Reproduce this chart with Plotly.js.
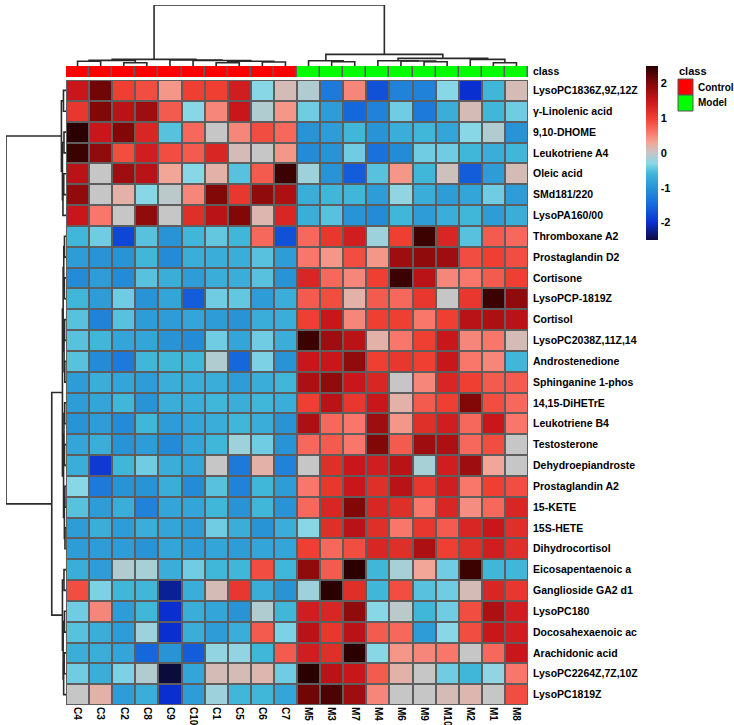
<!DOCTYPE html>
<html>
<head>
<meta charset="utf-8">
<script src="https://cdn.plot.ly/plotly-3.0.1.min.js"></script>
<style>html,body{margin:0;padding:0;background:#fff;}#chart{width:734px;height:725px;}</style>
</head>
<body>
<div id="chart"></div>
<script>
// ---------- DATA ----------
const samples = ['C4','C3','C2','C8','C9','C10','C1','C5','C6','C7','M5','M3','M7','M4','M6','M9','M10','M2','M1','M8'];
const sampleClass = [0,0,0,0,0,0,0,0,0,0,1,1,1,1,1,1,1,1,1,1];
const classNames = ['Control','Model'];
const metabolites = [
  'LysoPC1836Z,9Z,12Z','γ-Linolenic acid','9,10-DHOME','Leukotriene A4','Oleic acid','SMd181/220','LysoPA160/00',
  'Thromboxane A2','Prostaglandin D2','Cortisone','LysoPCP-1819Z','Cortisol','LysoPC2038Z,11Z,14','Androstenedione',
  'Sphinganine 1-phos','14,15-DiHETrE','Leukotriene B4','Testosterone','Dehydroepiandroste','Prostaglandin A2',
  '15-KETE','15S-HETE','Dihydrocortisol','Eicosapentaenoic a','Ganglioside GA2 d1','LysoPC180','Docosahexaenoic ac',
  'Arachidonic acid','LysoPC2264Z,7Z,10Z','LysoPC1819Z'
];
// standardized intensities, one row per metabolite, columns in sample order
const zValues = [
  [1.5, 2.1, 1.0, 0.9, 0.4, 1.0, 1.0, 1.4, -0.3, 0.1, -0.1, -1.3, 0.5, -1.7, -1.2, -1.2, -0.3, -2.0, -0.6, 0.1],
  [1.1, 2.0, 1.6, 1.8, 0.8, -0.3, 0.5, 1.5, -0.1, 0.4, -0.4, -0.9, -1.5, -1.2, -0.4, -1.3, -0.7, 0.1, -0.6, -0.4],
  [2.5, 1.5, 2.0, 1.3, -0.5, 0.7, 0.0, 0.5, 0.9, 0.7, -1.0, -0.9, -0.6, -1.0, -0.7, -0.6, -0.8, -0.3, -0.1, -1.0],
  [2.4, 1.9, 0.9, 1.4, 0.9, 0.8, 1.3, 0.1, 0.0, 0.4, -1.1, -1.0, -0.4, -1.4, -1.1, -0.4, -0.4, -0.6, -0.7, -0.6],
  [1.6, 0.0, 1.8, 1.6, 0.3, -0.3, 0.2, -0.5, 0.8, 2.4, -0.2, -1.0, -1.6, -0.5, 0.4, -0.6, 0.05, -1.6, -0.9, 0.1],
  [1.9, 0.0, 0.2, -0.3, -0.05, 0.5, 2.0, 1.1, 1.9, 1.7, -0.7, -0.6, -0.6, -0.9, -0.25, -0.7, -0.9, -0.8, -0.4, -0.9],
  [1.5, 0.6, 0.0, 1.9, 0.0, 1.2, 1.6, 2.0, 0.15, 1.3, -0.7, -0.5, -1.0, -1.1, -0.6, -0.9, -0.7, -0.6, -0.9, -0.7],
  [-0.6, -0.4, -1.8, -0.5, -1.0, -0.6, -0.45, -0.6, 0.7, -1.7, 0.7, 1.1, 1.4, -0.2, 1.0, 2.4, 1.3, -0.5, 0.8, 0.7],
  [-0.9, -1.0, -1.0, -0.6, -1.1, -0.7, -0.7, -0.7, -0.5, -0.9, 0.6, 0.4, 0.9, 0.4, 1.8, 1.9, 1.8, 0.9, 1.0, 0.9],
  [-1.1, -0.9, -1.1, -0.5, -0.7, -0.9, -0.7, -0.7, -0.5, -1.0, 1.3, 0.7, 0.5, 1.0, 2.4, 1.6, 0.5, 0.6, 0.8, 1.0],
  [-0.6, -0.9, -0.4, -1.0, -0.8, -1.6, -0.4, -0.45, -0.9, -0.7, 0.8, 0.9, 0.2, 0.8, 0.7, 1.1, 0.0, 1.1, 2.4, 1.9],
  [-0.5, -1.2, -0.5, -0.9, -0.9, -0.8, -0.9, -1.0, -0.7, -0.7, 1.0, 1.5, 0.5, 1.0, 1.0, 0.6, 1.0, 1.6, 1.7, 1.6],
  [-0.5, -0.6, -0.8, -0.8, -1.0, -1.1, -0.4, -0.8, -0.4, -0.7, 2.4, 1.8, 1.6, 0.2, 0.6, 1.0, 1.5, 0.5, 0.6, 0.1],
  [-0.5, -1.1, -1.3, -0.6, -0.6, -0.6, -0.1, -1.5, -0.35, -1.0, 1.5, 1.5, 1.9, 1.0, 1.1, 1.0, 1.5, 0.6, 0.5, -0.6],
  [-0.9, -0.7, -0.8, -0.9, -0.7, -0.7, -0.7, -0.9, -0.7, -0.6, 1.7, 1.9, 1.5, 1.3, 0.0, 0.5, 1.3, 1.0, 0.8, 0.8],
  [-0.9, -0.8, -0.6, -1.0, -0.7, -0.7, -0.6, -0.7, -0.6, -0.7, 1.0, 1.6, 1.1, 1.5, 0.2, 0.8, 1.0, 2.0, 0.9, 0.7],
  [-1.0, -0.9, -1.1, -0.6, -0.9, -0.8, -0.7, -0.6, -0.7, -1.0, 1.7, 0.7, 0.6, 1.8, 0.4, 1.2, 1.4, 0.7, 1.5, 0.6],
  [-0.8, -0.7, -1.0, -0.9, -1.1, -0.8, -0.6, -0.2, -0.4, -1.0, 0.7, 0.8, 0.6, 2.0, 0.8, 1.8, 1.7, 0.7, 0.9, 0.0],
  [-0.7, -1.9, -0.6, -0.4, -0.7, -0.8, 0.0, -1.3, 0.2, -1.2, 0.0, 1.2, 1.5, 1.4, 1.6, -0.15, 1.4, 1.8, 0.3, 0.0],
  [-0.3, -1.3, -1.0, -1.0, -0.7, -1.1, -0.5, -1.2, -0.6, -0.9, 0.6, 1.1, 1.5, 1.2, 1.6, 1.1, 1.4, 0.6, 1.0, 0.9],
  [-0.5, -0.9, -0.7, -1.2, -0.8, -0.8, -0.6, -1.0, -0.6, -1.0, 0.7, 1.3, 2.0, 1.3, 1.2, 0.6, 1.3, 0.45, 0.7, 1.3],
  [-0.9, -0.7, -0.9, -0.7, -0.8, -0.9, -0.4, -0.7, -1.0, -0.7, -0.3, 1.2, 1.6, 1.2, 0.6, 1.1, 0.8, 1.3, 1.5, 1.2],
  [-0.9, -0.9, -0.9, -1.0, -0.8, -0.9, -0.8, -0.9, -0.8, -0.8, 1.0, 0.7, 0.9, 1.3, 1.2, 1.7, 1.0, 1.2, 1.4, 1.2],
  [-0.7, -0.9, -0.1, -0.15, -0.7, -0.4, -0.6, -0.6, 0.9, -0.6, 1.9, 0.8, 2.5, -0.6, -0.15, 0.3, -0.4, 2.4, -0.6, -0.6],
  [0.9, -0.35, -0.6, -0.6, -2.2, -0.7, 0.1, 1.1, -0.7, -1.0, -0.2, 2.6, 1.2, -0.6, 0.9, -0.5, -0.4, 0.1, 1.3, 1.1],
  [-0.4, 0.5, -0.9, -0.6, -2.0, -0.7, -0.8, -1.0, -0.1, -0.6, 1.4, 1.3, 1.9, -0.3, -0.05, -0.6, -0.4, 0.9, 1.7, 1.4],
  [-0.5, -0.7, -0.9, -0.2, -2.0, -0.7, -0.9, -0.7, 0.8, -0.35, 1.6, 1.1, 1.6, 0.8, 0.7, -0.9, -0.3, 0.9, 1.5, 1.4],
  [-0.7, -0.7, -0.8, -1.5, -1.0, -1.6, -0.25, -0.25, -0.6, 0.8, 1.4, 1.2, 2.5, -0.3, 0.4, 0.5, 0.6, 0.0, 0.7, 1.5],
  [-0.4, -0.7, -0.35, -0.1, -2.5, -0.8, 0.1, 0.1, 0.15, -0.4, 2.7, 1.6, 1.5, 0.8, 0.2, 0.0, -0.4, -0.6, -0.25, 0.6],
  [0.0, 0.2, -0.9, -0.7, -2.0, -0.9, -0.2, -0.6, -0.6, -0.8, 2.1, 2.3, 1.8, 0.5, 0.0, 0.0, 0.1, 0.15, 0.0, 0.9]
];
// hierarchical clustering merges: [childA, childB, height]; negative = leaf (1-based display order), positive = earlier merge
const colMerges = [
  [-1, -2, 4.7], [-3, -4, 3.2], [1, 2, 5.5], [-7, -8, 3.2], [-9, -10, 4.0], [4, 5, 4.7], [-6, 6, 5.4], [-5, 7, 5.9], [3, 8, 6.5],
  [-12, -13, 4.2], [-11, 10, 5.2], [-16, -17, 4.2], [-15, 12, 4.9], [-14, 13, 5.2], [-19, -20, 3.2], [-18, 15, 6.5], [14, 16, 7.5],
  [11, 17, 11.4], [9, 18, 60]
];
const rowMerges = [
  [-3, -4, 2.0], [-1, -2, 2.5], [-5, -6, 2.2], [3, -7, 3.0], [1, 4, 3.5], [2, 5, 4.5],
  [-8, -9, 1.5], [-10, -11, 1.6], [7, 8, 2.2], [-12, -13, 1.4], [-14, -15, 1.2], [10, 11, 1.9], [9, 12, 2.8],
  [-16, -17, 1.3], [-18, -19, 1.5], [14, 15, 2.0], [-20, -21, 1.1], [-22, -23, 1.0], [17, 18, 1.6], [16, 19, 2.4], [13, 20, 3.5],
  [-24, -25, 2.0], [-26, -27, 1.5], [-28, -29, 1.8], [24, -30, 2.3], [23, 25, 2.8], [22, 26, 3.5],
  [21, 27, 14], [6, 28, 59]
];
const cbTicks = [-2, -1, 0, 1, 2];

// ---------- HELPERS ----------
function dendro(merges) {
  const pos = [], ht = [], p = [], h = [];
  const gp = k => k < 0 ? (-k - 1) : pos[k - 1];
  const gh = k => k < 0 ? 0 : ht[k - 1];
  merges.forEach(([a, b, hh], i) => {
    const pa = gp(a), pb = gp(b);
    p.push(pa, pa, pb, pb, null);
    h.push(gh(a), hh, hh, gh(b), null);
    pos[i] = (pa + pb) / 2; ht[i] = hh;
  });
  return {p, h, maxH: Math.max(...ht)};
}
const W = 734, H = 725;
const px = v => v / W, py = v => 1 - v / H;
const nC = samples.length, nR = metabolites.length;
const idxC = samples.map((_, i) => i), idxR = metabolites.map((_, i) => i);

const heatScale = [
  [0.00, '#0b0b3c'], [0.10, '#0a2fd0'], [0.20, '#1568dc'], [0.30, '#2894d6'], [0.38, '#40b6d9'],
  [0.44, '#88d7e6'], [0.50, '#c6c6c6'], [0.56, '#f2a697'], [0.62, '#f8766a'], [0.70, '#ef3f33'],
  [0.80, '#c8161b'], [0.90, '#820808'], [1.00, '#2a0000']
];
const FAM = 'Liberation Sans, Arial, sans-serif';
const rowFont = {family: FAM, size: 10.5, color: '#000', weight: 'bold'};
const colFont = {family: FAM, size: 10, color: '#000', weight: 'bold'};
const legFont = {family: FAM, size: 10, color: '#000', weight: 'bold'};

const cd = dendro(colMerges), rd = dendro(rowMerges);

const traces = [
  {
    type: 'heatmap', x: idxC, y: idxR, z: zValues, xaxis: 'x', yaxis: 'y',
    colorscale: heatScale, zmin: -2.5, zmax: 2.5, xgap: 2, ygap: 2,
    hoverinfo: 'skip',
    colorbar: {
      x: px(646), xanchor: 'left', y: py(66), yanchor: 'top', len: 174 / H, lenmode: 'fraction',
      thickness: 12, thicknessmode: 'pixels', outlinewidth: 0, xpad: 0, ypad: 0,
      tickvals: cbTicks, ticktext: cbTicks.map(String), ticks: '', ticklabelstandoff: 3,
      tickfont: {family: FAM, size: 11, color: '#000', weight: 'bold'}
    }
  },
  {
    type: 'heatmap', x: idxC, y: [0], z: [sampleClass], xaxis: 'x', yaxis: 'y2',
    colorscale: [[0, '#ff0000'], [1, '#00ff00']], zmin: 0, zmax: 1, showscale: false, xgap: 1.5, ygap: 0,
    hoverinfo: 'skip'
  },
  {
    type: 'scatter', mode: 'lines', x: cd.p, y: cd.h, xaxis: 'x', yaxis: 'y3',
    line: {color: '#2a2a2a', width: 1.6}, hoverinfo: 'skip', connectgaps: false
  },
  {
    type: 'scatter', mode: 'lines', x: rd.h, y: rd.p, xaxis: 'x2', yaxis: 'y',
    line: {color: '#2a2a2a', width: 1.6}, hoverinfo: 'skip', connectgaps: false
  }
];

const hmDomX = [px(66), px(528)];
const layout = {
  width: W, height: H, margin: {l: 0, r: 0, t: 0, b: 0, pad: 0},
  paper_bgcolor: '#fff', plot_bgcolor: 'rgba(0,0,0,0)', showlegend: false,
  xaxis: {
    domain: hmDomX, range: [-0.5, nC - 0.5], anchor: 'y',
    tickvals: idxC, ticktext: samples, tickangle: 90, ticks: '', ticklabelstandoff: 1,
    showgrid: false, zeroline: false, showline: false, tickfont: colFont
  },
  yaxis: {
    domain: [py(705), py(80)], range: [nR - 0.5, -0.5], anchor: 'x', side: 'right',
    tickvals: idxR, ticktext: metabolites, ticks: '', ticklabelstandoff: 4,
    showgrid: false, zeroline: false, showline: false, tickfont: rowFont
  },
  yaxis2: {
    domain: [py(77), py(66)], range: [-0.5, 0.5], anchor: 'x', side: 'right',
    tickvals: [0], ticktext: ['class'], ticks: '', ticklabelstandoff: 4,
    showgrid: false, zeroline: false, showline: false, tickfont: rowFont
  },
  yaxis3: {
    domain: [py(66), py(5)], range: [0, cd.maxH], anchor: 'x',
    visible: false, showgrid: false, zeroline: false
  },
  xaxis2: {
    domain: [px(6), px(66)], range: [rd.maxH, 0], anchor: 'y',
    visible: false, showgrid: false, zeroline: false
  },
  shapes: [
    {type: 'rect', xref: 'x', yref: 'y', x0: -0.55, x1: nC - 0.45, y0: -0.55, y1: nR - 0.45,
     fillcolor: '#5e5e5e', line: {width: 0}, layer: 'below'},
    {type: 'rect', xref: 'x', yref: 'y2', x0: -0.55, x1: nC - 0.45, y0: -0.6, y1: 0.6,
     fillcolor: '#5e5e5e', line: {width: 0}, layer: 'below'},
    {type: 'rect', xref: 'paper', yref: 'paper', x0: px(678), x1: px(693), y0: py(95), y1: py(79),
     fillcolor: '#ff0000', line: {color: '#555', width: 1}},
    {type: 'rect', xref: 'paper', yref: 'paper', x0: px(678), x1: px(693), y0: py(111), y1: py(95),
     fillcolor: '#00ff00', line: {color: '#555', width: 1}}
  ],
  annotations: [
    {xref: 'paper', yref: 'paper', x: px(677), y: py(71), xanchor: 'left', yanchor: 'middle',
     text: 'class', showarrow: false, font: {family: FAM, size: 11, color: '#000', weight: 'bold'}},
    {xref: 'paper', yref: 'paper', x: px(696), y: py(87), xanchor: 'left', yanchor: 'middle',
     text: classNames[0], showarrow: false, font: legFont},
    {xref: 'paper', yref: 'paper', x: px(696), y: py(103), xanchor: 'left', yanchor: 'middle',
     text: classNames[1], showarrow: false, font: legFont}
  ]
};

Plotly.newPlot('chart', traces, layout, {displayModeBar: false, staticPlot: true});
</script>
</body>
</html>
